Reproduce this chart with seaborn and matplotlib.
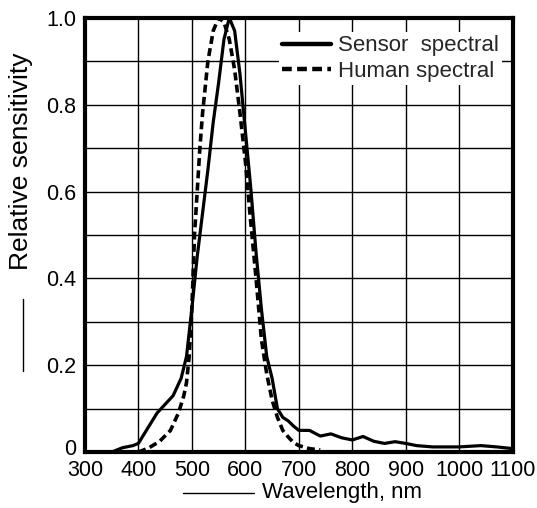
import matplotlib
matplotlib.use("Agg")
import matplotlib.pyplot as plt
import matplotlib.transforms as mtransforms
from matplotlib.lines import Line2D
import pandas as pd
import seaborn as sns

# Sensor spectral response (solid curve)
sensor_nm = [300, 350, 370, 390, 400, 420, 435, 450, 465, 480, 490, 500, 510, 520,
             530, 540, 550, 560, 570, 580, 590, 600, 610, 620, 630, 640, 650, 660,
             670, 680, 690, 700, 720, 740, 760, 780, 800, 820, 840, 860, 880, 900,
             920, 950, 1000, 1040, 1070, 1100]
sensor_val = [0.0, 0.0, 0.01, 0.015, 0.02, 0.06, 0.09, 0.11, 0.13, 0.17, 0.22, 0.33, 0.45, 0.55,
              0.65, 0.76, 0.85, 0.95, 1.0, 0.97, 0.87, 0.74, 0.61, 0.46, 0.33, 0.22, 0.17, 0.10,
              0.08, 0.072, 0.06, 0.05, 0.05, 0.037, 0.042, 0.033, 0.028, 0.036, 0.025, 0.02, 0.024, 0.02,
              0.015, 0.012, 0.012, 0.015, 0.012, 0.008]

# Human eye (photopic) response (dashed curve)
human_nm = [400, 420, 440, 460, 475, 485, 490, 495, 500, 505, 510, 515, 520, 530, 540,
            550, 560, 570, 580, 590, 600, 610, 620, 630, 640, 650, 660, 670, 680, 690,
            700, 720, 740]
human_val = [0.0, 0.01, 0.025, 0.05, 0.09, 0.13, 0.16, 0.22, 0.33, 0.5, 0.6, 0.7, 0.78, 0.9, 0.97,
             1.0, 0.99, 0.95, 0.88, 0.78, 0.67, 0.53, 0.40, 0.26, 0.18, 0.12, 0.08, 0.05, 0.035, 0.022,
             0.015, 0.008, 0.005]

x_ticks = [300, 400, 500, 600, 700, 800, 900, 1000, 1100]
y_ticks = [0, 0.2, 0.4, 0.6, 0.8, 1.0]
y_tick_labels = ["0", "0.2", "0.4", "0.6", "0.8", "1.0"]

sensor = pd.DataFrame({"nm": sensor_nm, "val": sensor_val})
human = pd.DataFrame({"nm": human_nm, "val": human_val})

sns.set_theme(style="whitegrid")
plt.rcParams["font.family"] = ["Liberation Sans", "DejaVu Sans"]

fig = plt.figure(figsize=(5.37, 5.08), dpi=100)
ax = fig.add_axes([0.158, 0.110, 0.797, 0.855])

sns.lineplot(data=sensor, x="nm", y="val", ax=ax, color="black", linewidth=2.3,
             label="Sensor  spectral")
sns.lineplot(data=human, x="nm", y="val", ax=ax, color="black", linewidth=2.6,
             linestyle=(0, (2.2, 1.2)), label="Human spectral")

ax.set_xlim(300, 1100)
ax.set_ylim(0, 1.0)
ax.set_xticks(x_ticks)
ax.set_yticks(y_ticks)
ax.set_yticklabels(y_tick_labels)
ax.set_yticks([i / 10 for i in range(11)], minor=True)
ax.grid(True, which="both", color="black", linewidth=1.0)
ax.tick_params(axis="both", which="both", length=0, labelsize=15.5, colors="black")
ax.tick_params(axis="x", pad=6)
ax.tick_params(axis="y", pad=6)

# the "0" sits a little above the corner in the original
zero_lbl = ax.get_yticklabels()[0]
zero_lbl.set_transform(zero_lbl.get_transform() +
                       mtransforms.ScaledTranslation(0, 4 / 72, fig.dpi_scale_trans))

for sp in ax.spines.values():
    sp.set_visible(True)
    sp.set_color("black")
    sp.set_linewidth(3)

ax.set_xlabel("Wavelength, nm", fontsize=16, color="black")
ax.xaxis.set_label_coords(0.6, -0.068)
ax.set_ylabel("Relative sensitivity", fontsize=19, color="black")
ax.yaxis.set_label_coords(-0.122, 0.67)

leg = ax.legend(loc="upper right", bbox_to_anchor=(0.975, 0.967), frameon=True,
                fontsize=16, handlelength=2.2, handletextpad=0.3, labelspacing=0.2,
                borderpad=0.15, borderaxespad=0, fancybox=False)
leg.get_frame().set_edgecolor("none")
leg.get_frame().set_facecolor("white")
leg.get_frame().set_alpha(1)
for h in leg.get_lines():
    h.set_linewidth(3.2)

# the little arrow-lines in front of the axis titles
fig.add_artist(Line2D([0.341, 0.473], [0.030, 0.030], color="black", linewidth=1.0))
fig.add_artist(Line2D([0.043, 0.043], [0.270, 0.411], color="black", linewidth=1.0))

fig.savefig("out.png", dpi=100)
